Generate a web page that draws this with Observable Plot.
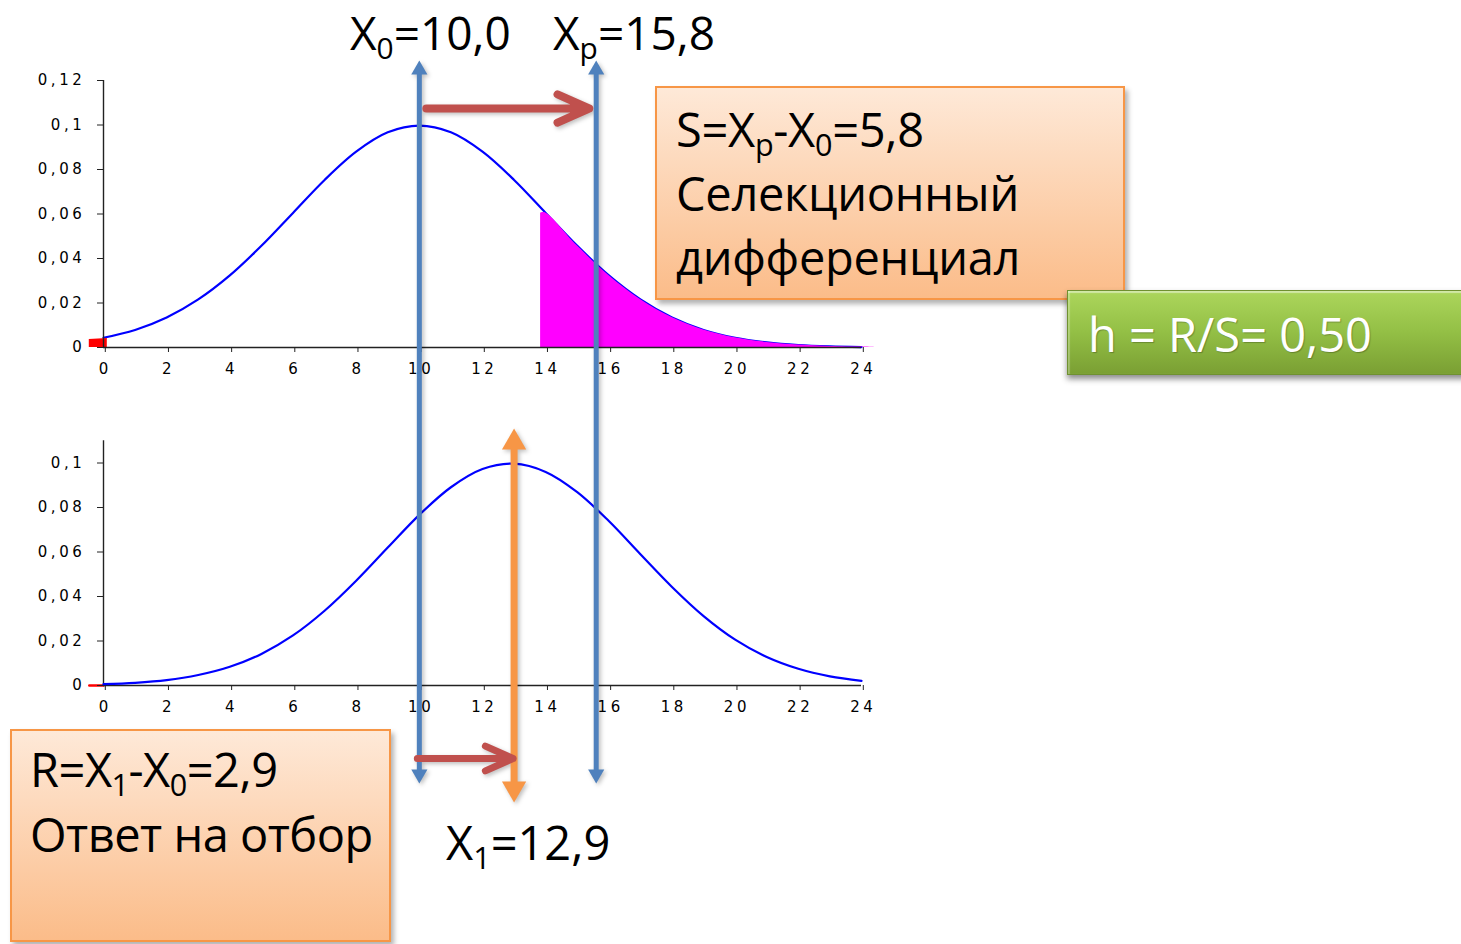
<!DOCTYPE html>
<html><head><meta charset="utf-8">
<script src="https://cdn.jsdelivr.net/npm/d3@7"></script>
<script src="https://cdn.jsdelivr.net/npm/@observablehq/plot@0.6"></script>
<style>
body{margin:0;background:#fff}
#stage{position:relative;width:1461px;height:944px;overflow:hidden;background:#fff}
.layer{position:absolute;left:0}
.chart text{letter-spacing:3.6px}
.lbl{position:absolute;font-family:'Open Sans',sans-serif;font-size:47px;line-height:64px;white-space:nowrap;color:#000}
.lbl sub{font-size:0.65em;vertical-align:-9px;line-height:0}
.box{position:absolute;box-sizing:border-box;border:2px solid #f79646;background:linear-gradient(#fee9d8,#fbbc89);box-shadow:3px 4px 5px rgba(0,0,0,0.3)}
.gbox{position:absolute;box-sizing:border-box;border:1px solid #6f9130;background:linear-gradient(#acd65c,#93bf45 50%,#7a9f33);box-shadow:0 4px 6px rgba(0,0,0,0.45), inset 0 2px 1px rgba(255,255,255,0.45), inset 2px 0 1px rgba(255,255,255,0.25)}
</style>
</head><body>
<div id="stage">
  <div id="topChart" class="layer chart" style="top:0;width:900px"></div>
  <div id="botChart" class="layer chart" style="top:400px;width:900px"></div>
  <div id="overlay" class="layer" style="top:0;width:1461px;pointer-events:none"></div>
  <div class="lbl" style="left:350px;top:0px;font-size:46px">X<sub>0</sub>=10,0</div>
  <div class="lbl" style="left:553px;top:0px;font-size:46px">X<sub>p</sub>=15,8</div>
  <div class="box" style="left:655px;top:86px;width:470px;height:214px"></div>
  <div class="lbl" style="left:676px;top:97px;letter-spacing:-0.3px">S=X<sub>p</sub>-X<sub>0</sub>=5,8<br>Селекционный<br>дифференциал</div>
  <div class="gbox" style="left:1067px;top:290px;width:410px;height:85px"></div>
  <div class="lbl" style="left:1088px;top:302px;color:#fff;text-shadow:1px 1px 1px rgba(0,0,0,0.25)">h = R/S= 0,50</div>
  <div class="box" style="left:10px;top:729px;width:381px;height:213px"></div>
  <div class="lbl" style="left:30px;top:737px;line-height:65px;letter-spacing:-0.5px">R=X<sub>1</sub>-X<sub>0</sub>=2,9<br>Ответ на отбор</div>
  <div class="lbl" style="left:446px;top:810px">X<sub>1</sub>=12,9</div>
</div>
<script>
// x positions of the curve samples
const xs = [0,1,2,3,4,5,6,7,8,9,10,11,12,13,14,15,16,17,18,19,20,21,22,23,24];
// parent population density
const topDensity = [0.0044,0.0079,0.0135,0.0216,0.0324,0.0457,0.0605,0.0753,0.0880,0.0967,0.0997,0.0967,0.0880,0.0753,0.0605,0.0457,0.0324,0.0216,0.0135,0.0079,0.0044,0.0023,0.0011,0.0005,0.0002];
// offspring density
const botDensity = [0.0006,0.0012,0.0024,0.0047,0.0084,0.0142,0.0225,0.0336,0.0471,0.0620,0.0767,0.0891,0.0973,0.0997,0.0960,0.0869,0.0739,0.0590,0.0443,0.0312,0.0206,0.0128,0.0075,0.0041,0.0021];
// selected tail (magenta) : start point and end point
const selStart = {x: 13.84, y: 0.0603};
const selEnd = {x: 24.4, y: 0.0001};
// red left tails
const redTailTop = [{x:-0.45,y:0.0036},{x:0.12,y:0.0040}];
const redTailBot = [{x:-0.45,y:0},{x:0,y:0}];
// ticks
const xTicks = [0,2,4,6,8,10,12,14,16,18,20,22,24];
const yTicksTop = [0,0.02,0.04,0.06,0.08,0.1,0.12];
const yTicksBot = [0,0.02,0.04,0.06,0.08,0.1];
// arrow positions (x values as placed on the slide)
const X0pos = 10.0, XPpos = 15.6, X1pos = 13.0;

const topData = xs.map((x,i)=>({x, y: topDensity[i]}));
const botData = xs.map((x,i)=>({x, y: botDensity[i]}));
const selData = [selStart, ...topData.filter(d=>d.x>=14), selEnd];

const yFmt = d => String(d).replace(".", ",");
const baseStyle = {fontFamily:"DejaVu Sans, Verdana, sans-serif", fontSize:"15px", color:"#000", background:"transparent", overflow:"visible"};

function axes(yTop, yTicks){
  return [
    Plot.ruleY([0], {x1:0, x2:24, stroke:"#222", strokeWidth:1.4}),
    Plot.ruleX([0], {y1:0, y2:yTop, stroke:"#222", strokeWidth:1.4}),
    Plot.axisX({ticks:xTicks, tickSize:5, tickPadding:11, tickFormat:d=>String(d), stroke:"#222", label:null, dx:1.8}),
    Plot.axisY({ticks:yTicks, tickSize:6, tickPadding:12, tickFormat:yFmt, stroke:"#222", label:null})
  ];
}

const topPlot = Plot.plot({
  width:900, height:400, marginLeft:103, marginRight:39, marginTop:80, marginBottom:53,
  x:{domain:[0,24], label:null}, y:{domain:[0,0.12], label:null},
  style: baseStyle,
  marks:[
    Plot.line(topData, {x:"x", y:"y", stroke:"#0000ff", strokeWidth:2.2, curve:"catmull-rom"}),
    Plot.areaY(selData, {x:"x", y:"y", fill:"#ff00ff", curve:"catmull-rom"}),
    Plot.areaY(redTailTop, {x:"x", y:"y", fill:"#ff0000"}),
    ...axes(0.12, yTicksTop)
  ]
});
document.getElementById("topChart").append(topPlot);

const botPlot = Plot.plot({
  width:900, height:344, marginLeft:103, marginRight:39, marginTop:40.25, marginBottom:59,
  x:{domain:[0,24], label:null}, y:{domain:[0,0.11], label:null},
  style: baseStyle,
  marks:[
    Plot.line(redTailBot, {x:"x", y:"y", stroke:"#ff0000", strokeWidth:2.5}),
    ...axes(0.11, yTicksBot),
    Plot.line(botData, {x:"x", y:"y", stroke:"#0000ff", strokeWidth:2.2, curve:"catmull-rom"})
  ]
});
document.getElementById("botChart").append(botPlot);

const blue = "#4f81bd", orange = "#f79646", red = "#c0504d";
const ov = Plot.plot({
  width:1461, height:944, margin:0, axis:null,
  x:{domain:[0,24], range:[103,861]},
  y:{type:"identity"},
  style:{background:"transparent", overflow:"visible"},
  marks:[
    Plot.ruleX([X0pos, XPpos], {y1:72, y2:772, stroke:blue, strokeWidth:5}),
    Plot.dot([X0pos, XPpos], {x:d=>d, y:69.4, symbol:"triangle", r:6, fill:blue}),
    Plot.dot([X0pos, XPpos], {x:d=>d, y:773.6, symbol:"triangle", r:6, rotate:180, fill:blue}),
    Plot.ruleX([X1pos], {y1:446, y2:784, stroke:orange, strokeWidth:7}),
    Plot.dot([X1pos], {x:d=>d, y:442, symbol:"triangle", r:9, fill:orange}),
    Plot.dot([X1pos], {x:d=>d, y:788, symbol:"triangle", r:9, rotate:180, fill:orange}),
    Plot.arrow([{a:X0pos, b:XPpos}], {x1:"a", x2:"b", y1:108, y2:108, stroke:red, strokeWidth:8, headLength:6.5, headAngle:48, insetStart:7, insetEnd:7, strokeLinecap:"round", strokeLinejoin:"round"}),
    Plot.arrow([{a:X0pos, b:X1pos}], {x1:"a", x2:"b", y1:758, y2:758, stroke:red, strokeWidth:7, headLength:6.5, headAngle:48, insetStart:-2, insetEnd:1, strokeLinecap:"round", strokeLinejoin:"round"})
  ]
});
ov.style.filter = "drop-shadow(2px 2px 2px rgba(0,0,0,0.25))";
document.getElementById("overlay").append(ov);
</script>
</body></html>
